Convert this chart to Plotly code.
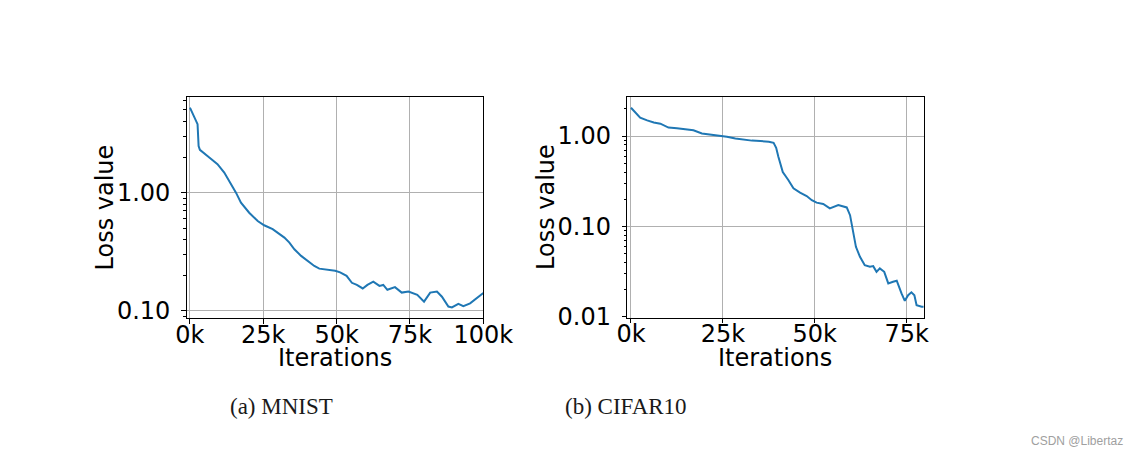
import plotly.graph_objects as go

# ---------------- data ----------------
mnist_iter = [0, 1500, 2600, 2960, 3400, 6600, 9400, 11700, 14000, 15700, 17400, 20200, 23100,
              25300, 28200, 30500, 32200, 33900, 35600, 37900, 40200, 42400, 44100, 46400, 47800,
              49500, 51200, 53400, 55200, 56900, 58900, 60500, 62500, 64600, 65900, 67300, 69900,
              72200, 74500, 77500, 79800, 81900, 84200, 85900, 88100, 89300, 91500, 93200, 95500,
              97800, 99500, 100000]
mnist_loss = [5.23, 4.30, 3.79, 2.48, 2.30, 1.98, 1.74, 1.48, 1.20, 1.00, 0.823, 0.677, 0.576,
              0.530, 0.491, 0.445, 0.417, 0.378, 0.332, 0.292, 0.265, 0.240, 0.228, 0.225, 0.224,
              0.219, 0.212, 0.198, 0.173, 0.166, 0.155, 0.166, 0.177, 0.163, 0.166, 0.151, 0.159,
              0.143, 0.146, 0.137, 0.120, 0.143, 0.146, 0.132, 0.109, 0.107, 0.115, 0.110, 0.116,
              0.128, 0.139, 0.142]

cifar_iter = [0, 1200, 2500, 4400, 6200, 8000, 10200, 12500, 14800, 17000, 19300, 21600, 23800,
              26100, 28400, 30700, 32900, 35200, 37500, 38800, 39500, 40100, 41300, 42800, 44200,
              46000, 47800, 49200, 50500, 52300, 54100, 56400, 58700, 59600, 60500, 61200, 62300,
              63600, 65000, 65900, 66800, 67700, 68900, 70000, 71300, 72300, 73600, 74500, 75400,
              76300, 77100, 77700, 79100, 79600]
cifar_loss = [2.06, 1.81, 1.60, 1.49, 1.41, 1.37, 1.24, 1.22, 1.20, 1.16, 1.07, 1.04, 1.02,
              0.98, 0.94, 0.91, 0.89, 0.88, 0.865, 0.84, 0.742, 0.59, 0.40, 0.326, 0.264,
              0.236, 0.217, 0.195, 0.183, 0.177, 0.158, 0.172, 0.162, 0.133, 0.0836, 0.0594, 0.0460,
              0.0372, 0.0357, 0.0363, 0.0314, 0.0343, 0.0314, 0.0234, 0.0244, 0.0250, 0.0181, 0.0150, 0.0173,
              0.0186, 0.0173, 0.0134, 0.0129, 0.0129]

x_ticks_mnist = [0, 25000, 50000, 75000, 100000]
x_labels_mnist = ["0k", "25k", "50k", "75k", "100k"]
x_ticks_cifar = [0, 25000, 50000, 75000]
x_labels_cifar = ["0k", "25k", "50k", "75k"]
y_ticks_mnist = [0.1, 1.0]
y_labels_mnist = ["0.10", "1.00"]
y_ticks_cifar = [0.01, 0.1, 1.0]
y_labels_cifar = ["0.01", "0.10", "1.00"]

captions = ["(a) MNIST", "(b) CIFAR10"]

# ---------------- figure ----------------
OFF = 8                      # page body margin
W, H = 1138 - OFF, 457 - OFF
BLUE = "#1f77b4"
FONT = "DejaVu Sans"

fig = go.Figure()
fig.add_trace(go.Scatter(x=mnist_iter, y=mnist_loss, mode="lines",
                         line=dict(color=BLUE, width=2), xaxis="x", yaxis="y",
                         showlegend=False))
fig.add_trace(go.Scatter(x=cifar_iter, y=cifar_loss, mode="lines",
                         line=dict(color=BLUE, width=2), xaxis="x2", yaxis="y2",
                         showlegend=False))

def px_x(v):
    return (v - OFF) / W

def px_y(v):
    return 1 - (v - OFF) / H

common_axis = dict(showline=True, linecolor="black", linewidth=1, mirror=True,
                   ticks="outside", ticklen=4.5, tickwidth=1, tickcolor="black",
                   showgrid=True, gridcolor="#b0b0b0", gridwidth=0.8,
                   zeroline=False, automargin=False,
                   tickfont=dict(family=FONT, size=24, color="black"))

minor_log = dict(ticks="outside", ticklen=2.5, tickwidth=0.8, tickcolor="black",
                 dtick="D1", showgrid=False)

fig.update_layout(
    template="none",
    width=W, height=H,
    margin=dict(l=0, r=0, t=0, b=0, pad=0),
    paper_bgcolor="white", plot_bgcolor="white",
    xaxis=dict(domain=[px_x(186.7), px_x(483.3)], range=[-1100, 100000],
               tickvals=x_ticks_mnist, ticktext=x_labels_mnist, anchor="y",
               ticklabelstandoff=-10, **common_axis),
    yaxis=dict(domain=[px_y(318.3), px_y(96.7)], type="log", range=[-1.062, 0.811],
               tickvals=y_ticks_mnist, ticktext=y_labels_mnist, anchor="x",
               minor=minor_log, ticklabelstandoff=6, **common_axis),
    xaxis2=dict(domain=[px_x(627.3), px_x(924.3)], range=[-1000, 79800],
                tickvals=x_ticks_cifar, ticktext=x_labels_cifar, anchor="y2",
                ticklabelstandoff=-10, **common_axis),
    yaxis2=dict(domain=[px_y(317.7), px_y(97.3)], type="log", range=[-2.011, 0.429],
                tickvals=y_ticks_cifar, ticktext=y_labels_cifar, anchor="x2",
                minor=minor_log, ticklabelstandoff=6, **common_axis),
)

annots = []
label_font = dict(family=FONT, size=24, color="black")
# axis titles
annots.append(dict(text="Iterations", x=px_x(334.7), y=px_y(358), xref="paper", yref="paper",
                   showarrow=False, font=label_font, xanchor="center", yanchor="middle"))
annots.append(dict(text="Iterations", x=px_x(775), y=px_y(358), xref="paper", yref="paper",
                   showarrow=False, font=label_font, xanchor="center", yanchor="middle"))
annots.append(dict(text="Loss value", x=px_x(104), y=px_y(207.5), xref="paper", yref="paper",
                   showarrow=False, font=label_font, textangle=-90,
                   xanchor="center", yanchor="middle"))
annots.append(dict(text="Loss value", x=px_x(545.5), y=px_y(207.5), xref="paper", yref="paper",
                   showarrow=False, font=label_font, textangle=-90,
                   xanchor="center", yanchor="middle"))
# captions
cap_font = dict(family="Liberation Serif", size=23, color="#1a1a1a")
annots.append(dict(text=captions[0], x=px_x(281.5), y=px_y(406), xref="paper", yref="paper",
                   showarrow=False, font=cap_font, xanchor="center", yanchor="middle"))
annots.append(dict(text=captions[1], x=px_x(626), y=px_y(406), xref="paper", yref="paper",
                   showarrow=False, font=cap_font, xanchor="center", yanchor="middle"))
# watermark
annots.append(dict(text="CSDN @Libertaz", x=px_x(1125), y=px_y(441), xref="paper", yref="paper",
                   showarrow=False, font=dict(family="Liberation Sans", size=12, color="#a0a0a0"),
                   xanchor="right", yanchor="middle"))
fig.update_layout(annotations=annots)

fig.write_html("out.html")
